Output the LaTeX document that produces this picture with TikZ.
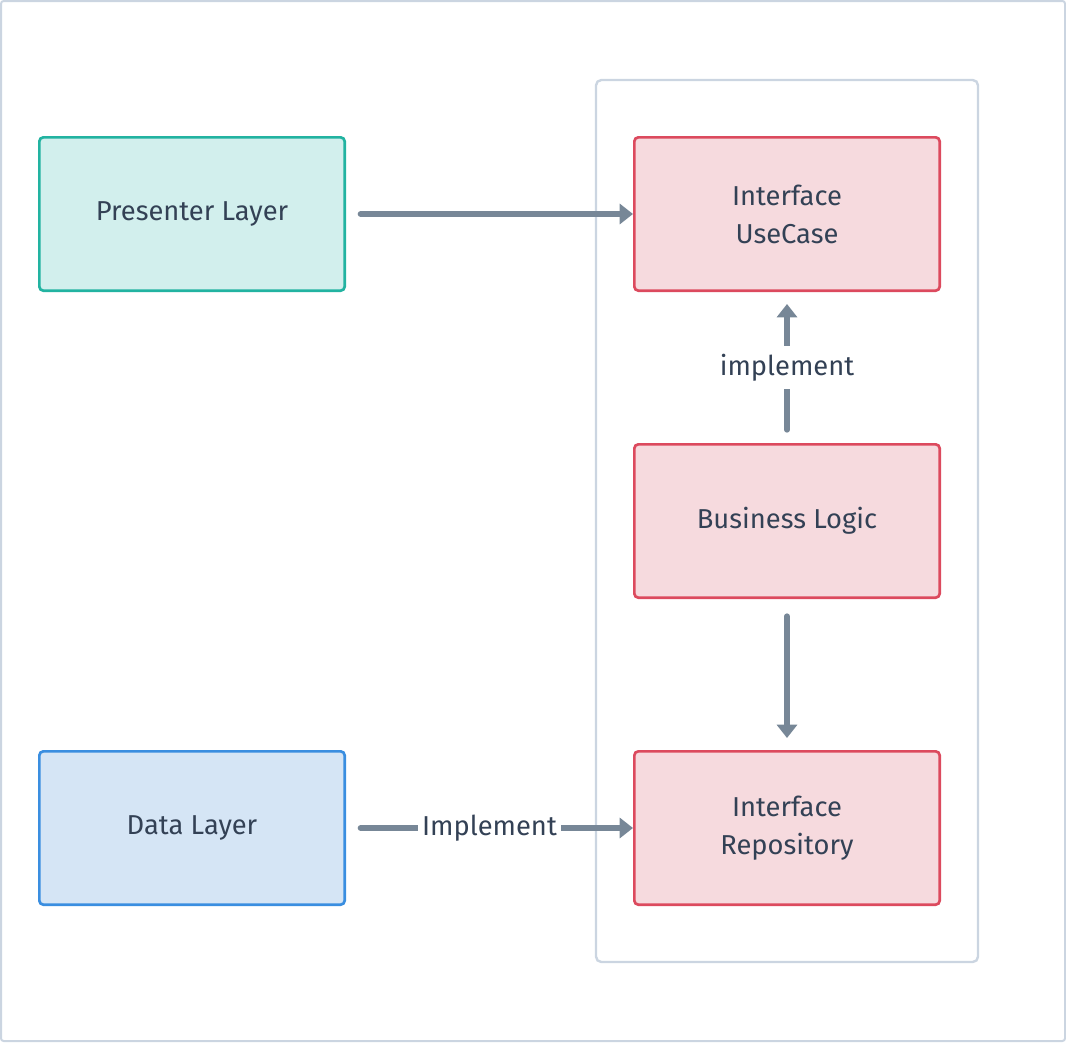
\documentclass[tikz,border=0pt]{standalone}
\usepackage{fontspec}
\setmainfont{Fira Sans}
\usetikzlibrary{arrows.meta}
\definecolor{framegray}{HTML}{CBD5E1}
\definecolor{linkgray}{HTML}{778797}
\definecolor{inktext}{HTML}{334155}
\definecolor{tealfill}{HTML}{D2EFED}
\definecolor{tealdraw}{HTML}{22B3A1}
\definecolor{bluefill}{HTML}{D5E5F5}
\definecolor{bluedraw}{HTML}{3A8EE0}
\definecolor{redfill}{HTML}{F6DADE}
\definecolor{reddraw}{HTML}{DC4A5E}
\tikzset{
  basic/.style = {draw, rectangle, rounded corners=3pt, line width=2pt, align=center,
    minimum width=229pt, minimum height=115pt, text=inktext, font=\fontsize{20.5}{28.5}\selectfont},
  layerbox/.style = {basic, fill=tealfill, draw=tealdraw},
  databox/.style = {basic, fill=bluefill, draw=bluedraw},
  corebox/.style = {basic, fill=redfill, draw=reddraw},
  link/.style = {draw=linkgray, line width=4.5pt, line cap=round, -{Triangle[length=10pt,width=15pt]}},
  linklabel/.style = {fill=white, text=inktext, inner xsep=3pt, inner ysep=6pt, font=\fontsize{20.5}{24}\selectfont},
}

\begin{document}
\begin{tikzpicture}[x=0.75pt, y=-0.75pt]

 % frames
 \draw[framegray, line width=1.5pt, rounded corners=2pt] (1,1) rectangle (1065,1041);
 \draw[framegray, line width=1.8pt, rounded corners=4pt] (596,80) rectangle (978,962);

 % boxes
 \node[layerbox] (presenter) at (192,214) {Presenter Layer};
 \node[databox] (data) at (192,828) {Data Layer};
 \node[corebox] (usecase) at (787,214) {Interface\\UseCase};
 \node[corebox] (logic) at (787,521) {Business Logic};
 \node[corebox] (repo) at (787,828) {Interface\\Repository};

 % connectors
 \draw[link, shorten <=11pt] (presenter) -- (usecase);
 \draw[link, shorten <=10pt, shorten >=9pt] (logic) -- node[linklabel] {implement} (usecase);
 \draw[link, shorten <=13pt, shorten >=9pt] (logic) -- (repo);
 \draw[link, shorten <=11pt] (data) -- node[linklabel, pos=0.5] {Implement} (repo);

\end{tikzpicture}
\end{document}
